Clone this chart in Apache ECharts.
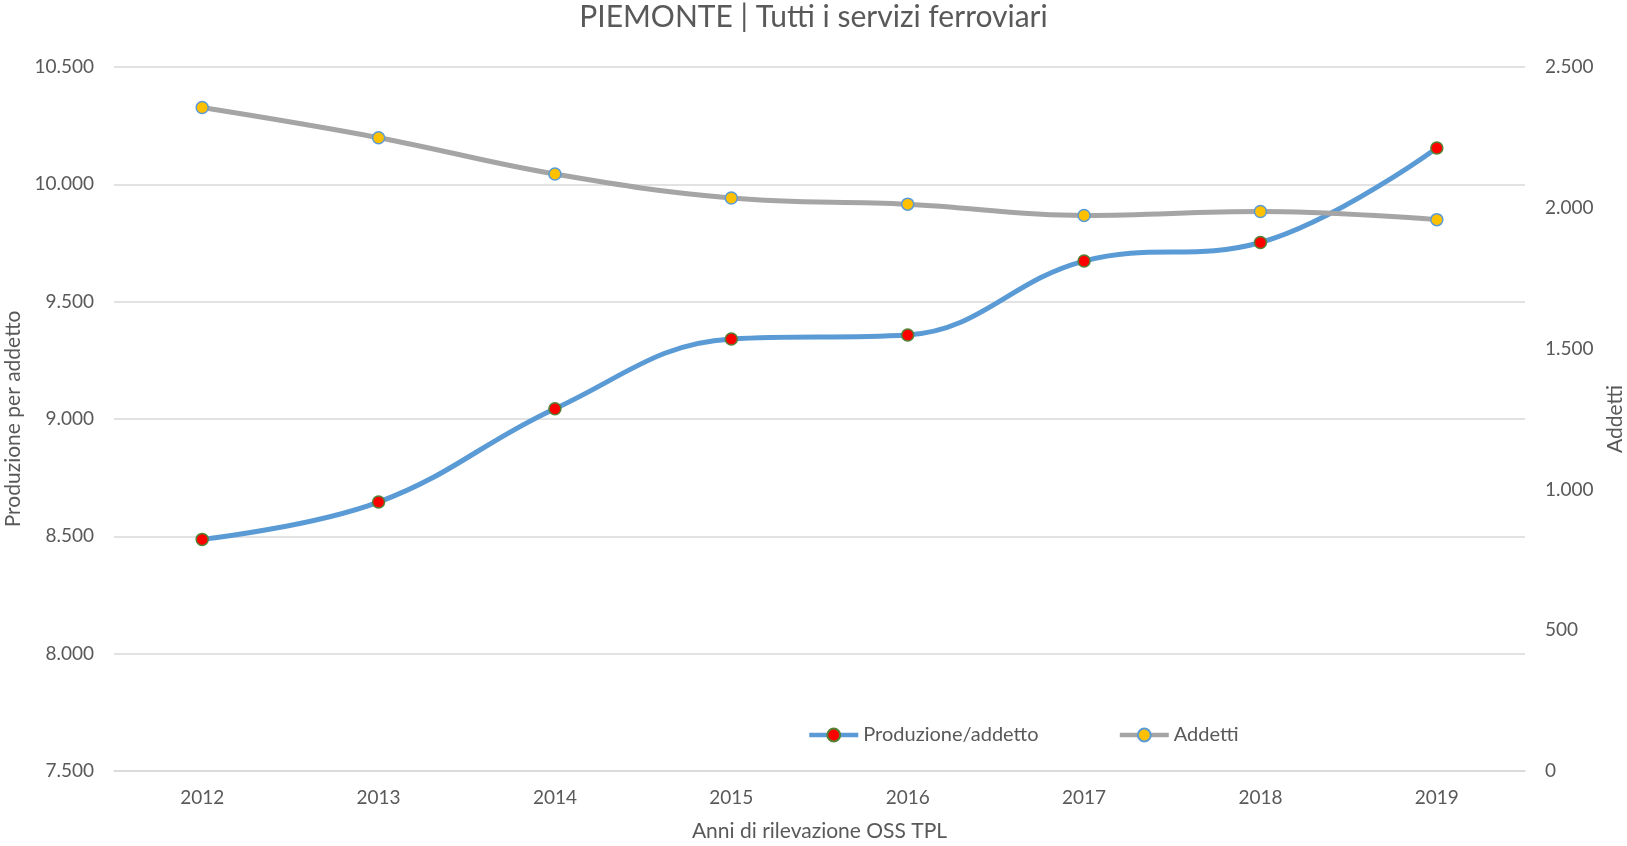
<!DOCTYPE html>
<html>
<head>
<meta charset="utf-8">
<script src="https://cdn.jsdelivr.net/npm/echarts@6/dist/echarts.min.js"></script>
<style>
  html, body { margin: 0; padding: 0; background: #fff; }
  #chart { width: 1627px; height: 846px; }
</style>
</head>
<body>
<div id="chart"></div>
<script>
// --- dati ---
const anni = ['2012', '2013', '2014', '2015', '2016', '2017', '2018', '2019']
const produzionePerAddetto = [8487, 8646, 9044, 9341, 9358, 9673, 9752, 10155]
const addetti = [2356, 2249, 2120, 2035, 2013, 1973, 1987, 1958]

const FONT = 'Lato, "Open Sans", sans-serif'
const TXT = '#595959'

// separatore delle migliaia con il punto
const fmt = v => String(v).replace(/\B(?=(\d{3})+(?!\d))/g, '.')

const myChart = echarts.init(document.getElementById('chart'))

const option = {
  backgroundColor: '#fff',
  animation: false,
  textStyle: { fontFamily: FONT },
  title: {
    text: 'PIEMONTE | Tutti i servizi ferroviari',
    left: 'center',
    top: -3,
    textStyle: { color: TXT, fontSize: 30, fontWeight: 'normal', fontFamily: FONT }
  },
  legend: {
    left: 802,
    top: 720,
    itemWidth: 49,
    itemHeight: 16,
    itemGap: 79,
    lineStyle: { width: 4.5 },
    textStyle: { color: TXT, fontSize: 20, fontFamily: FONT },
    data: ['Produzione/addetto', 'Addetti']
  },
  grid: { left: 114, right: 102, top: 67, bottom: 75, outerBoundsMode: 'none', containLabel: false },
  xAxis: {
    type: 'category',
    data: anni,
    boundaryGap: true,
    name: 'Anni di rilevazione OSS TPL',
    nameLocation: 'middle',
    nameGap: 50,
    nameTextStyle: { color: TXT, fontSize: 21, fontFamily: FONT },
    axisLine: { lineStyle: { color: '#d9d9d9', width: 1.5 } },
    axisTick: { show: false },
    axisLabel: { color: TXT, fontSize: 19, margin: 17 }
  },
  yAxis: [
    {
      type: 'value',
      min: 7500,
      max: 10500,
      interval: 500,
      name: 'Produzione per addetto',
      nameLocation: 'middle',
      nameGap: 85,
      nameRotate: 90,
      nameTextStyle: { color: TXT, fontSize: 21, fontFamily: FONT },
      axisLine: { show: false },
      axisTick: { show: false },
      axisLabel: { color: TXT, fontSize: 19, margin: 20, formatter: fmt },
      splitLine: { lineStyle: { color: '#d9d9d9', width: 1.5 } }
    },
    {
      type: 'value',
      min: 0,
      max: 2500,
      interval: 500,
      name: 'Addetti',
      nameLocation: 'middle',
      nameGap: 80,
      nameRotate: 90,
      nameTextStyle: { color: TXT, fontSize: 21, fontFamily: FONT },
      axisLine: { show: false },
      axisTick: { show: false },
      axisLabel: { color: TXT, fontSize: 19, margin: 20, formatter: fmt },
      splitLine: { show: false }
    }
  ],
  series: [
    {
      name: 'Produzione/addetto',
      type: 'line',
      yAxisIndex: 0,
      data: produzionePerAddetto,
      smooth: 0.4,
      symbol: 'circle',
      symbolSize: 12,
      lineStyle: { color: '#5b9bd5', width: 5 },
      itemStyle: { color: '#ff0000', borderColor: '#548235', borderWidth: 1.5 }
    },
    {
      name: 'Addetti',
      type: 'line',
      yAxisIndex: 1,
      data: addetti,
      smooth: 0.4,
      symbol: 'circle',
      symbolSize: 12,
      lineStyle: { color: '#a5a5a5', width: 5 },
      itemStyle: { color: '#ffc000', borderColor: '#5b9bd5', borderWidth: 1.5 }
    }
  ]
}

myChart.setOption(option)
</script>
</body>
</html>
